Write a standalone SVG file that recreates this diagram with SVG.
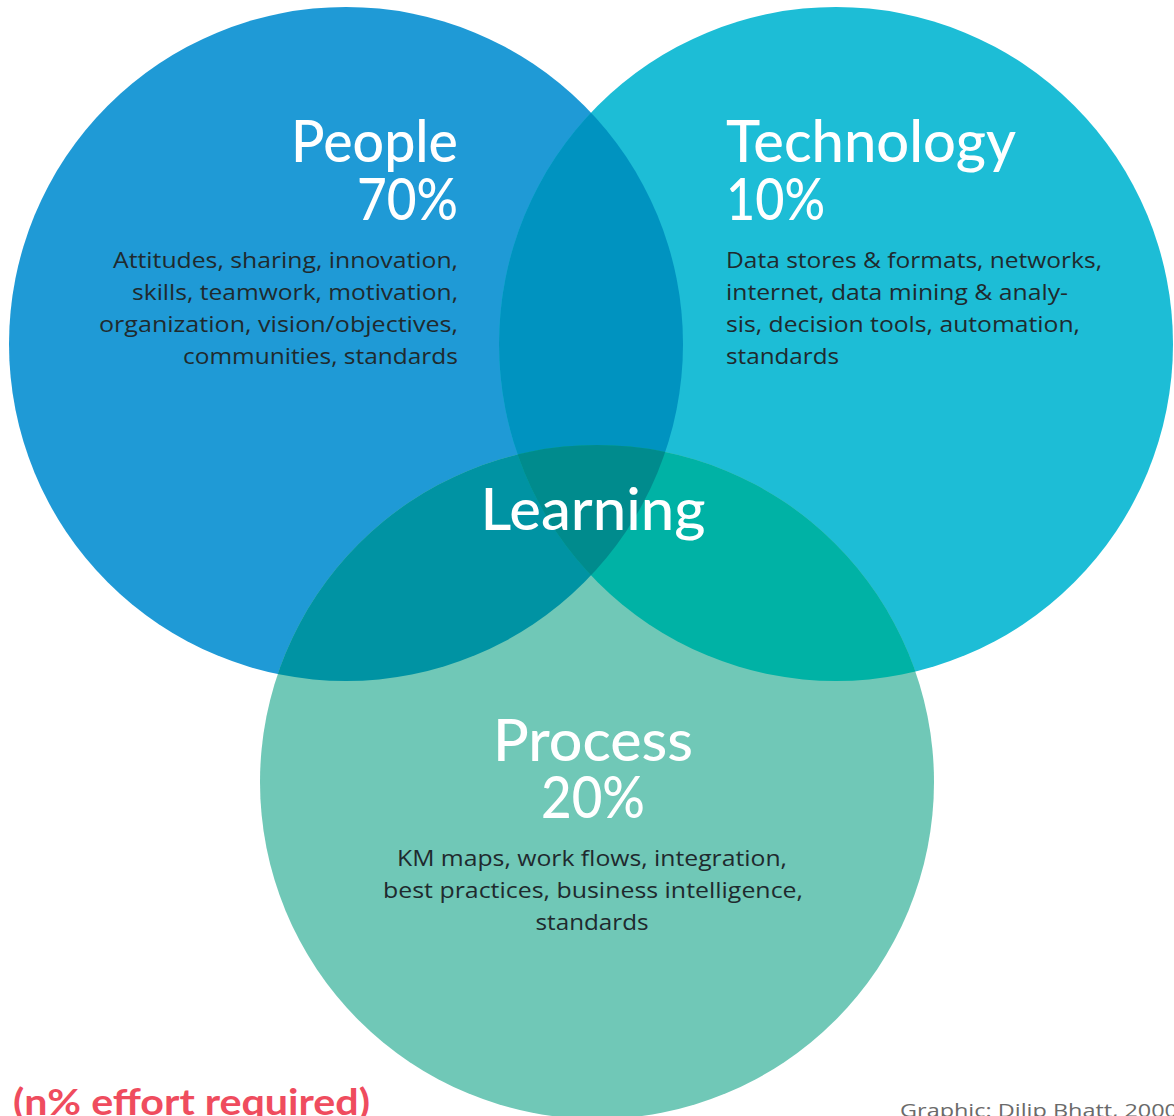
<svg xmlns="http://www.w3.org/2000/svg" width="1174" height="1116" viewBox="0 0 1174 1116">
  <style>
    .title { font-family: Lato, "Noto Sans", "Liberation Sans", sans-serif; font-size: 57px; fill: #ffffff; font-weight: 500; }
    .body { font-family: "Open Sans", "Noto Sans", "Liberation Sans", sans-serif; font-size: 22.5px; fill: #1f2a2e; }
    .note { font-family: Lato, "Noto Sans", "Liberation Sans", sans-serif; font-size: 36px; fill: #ef4c5e; font-weight: bold; }
    .credit { font-family: "Open Sans", "Noto Sans", "Liberation Sans", sans-serif; font-size: 19px; fill: #6a6a6a; }
  </style>
  <defs>
    <clipPath id="clipPeople"><circle cx="346" cy="344" r="337"/></clipPath>
    <clipPath id="clipTech"><circle cx="836" cy="344" r="337"/></clipPath>
  </defs>
  <rect width="1174" height="1116" fill="#ffffff"/>

  <g id="circles">
    <circle id="circle-people" cx="346" cy="344" r="337" fill="#1f9ad6"/>
    <circle id="circle-technology" cx="836" cy="344" r="337" fill="#1dbdd6"/>
    <circle id="circle-process" cx="597" cy="782" r="337" fill="#70c8b7"/>
    <circle id="overlap-people-tech" cx="836" cy="344" r="337" fill="#0093c0" clip-path="url(#clipPeople)"/>
    <circle id="overlap-people-process" cx="597" cy="782" r="337" fill="#0093a3" clip-path="url(#clipPeople)"/>
    <circle id="overlap-tech-process" cx="597" cy="782" r="337" fill="#00b2a5" clip-path="url(#clipTech)"/>
    <g clip-path="url(#clipTech)">
      <circle id="overlap-all" cx="597" cy="782" r="337" fill="#008b8d" clip-path="url(#clipPeople)"/>
    </g>
  </g>

  <g id="node-people">
    <text class="title" x="458" y="162" text-anchor="end" textLength="167" lengthAdjust="spacingAndGlyphs">People</text>
    <text class="title" x="458" y="220" text-anchor="end" textLength="101" lengthAdjust="spacingAndGlyphs">70%</text>
    <text class="body" x="458" y="268" text-anchor="end" textLength="345" lengthAdjust="spacingAndGlyphs">Attitudes, sharing, innovation,</text>
    <text class="body" x="458" y="300" text-anchor="end" textLength="326" lengthAdjust="spacingAndGlyphs">skills, teamwork, motivation,</text>
    <text class="body" x="458" y="332" text-anchor="end" textLength="359" lengthAdjust="spacingAndGlyphs">organization, vision/objectives,</text>
    <text class="body" x="458" y="364" text-anchor="end" textLength="275" lengthAdjust="spacingAndGlyphs">communities, standards</text>
  </g>

  <g id="node-technology">
    <text class="title" x="726" y="162" textLength="290" lengthAdjust="spacingAndGlyphs">Technology</text>
    <text class="title" x="726" y="220" textLength="99" lengthAdjust="spacingAndGlyphs">10%</text>
    <text class="body" x="726" y="268" textLength="376" lengthAdjust="spacingAndGlyphs">Data stores &amp; formats, networks,</text>
    <text class="body" x="726" y="300" textLength="342" lengthAdjust="spacingAndGlyphs">internet, data mining &amp; analy-</text>
    <text class="body" x="726" y="332" textLength="354" lengthAdjust="spacingAndGlyphs">sis, decision tools, automation,</text>
    <text class="body" x="726" y="364" textLength="113" lengthAdjust="spacingAndGlyphs">standards</text>
  </g>

  <g id="node-learning">
    <text class="title" x="593" y="530" text-anchor="middle" textLength="225" lengthAdjust="spacingAndGlyphs">Learning</text>
  </g>

  <g id="node-process">
    <text class="title" x="593" y="761" text-anchor="middle" textLength="200" lengthAdjust="spacingAndGlyphs">Process</text>
    <text class="title" x="593" y="818" text-anchor="middle" textLength="104" lengthAdjust="spacingAndGlyphs">20%</text>
    <text class="body" x="592" y="866" text-anchor="middle" textLength="390" lengthAdjust="spacingAndGlyphs">KM maps, work flows, integration,</text>
    <text class="body" x="593" y="898" text-anchor="middle" textLength="420" lengthAdjust="spacingAndGlyphs">best practices, business intelligence,</text>
    <text class="body" x="592" y="930" text-anchor="middle" textLength="113" lengthAdjust="spacingAndGlyphs">standards</text>
  </g>

  <g id="footer">
    <text class="note" x="13" y="1115" textLength="357" lengthAdjust="spacingAndGlyphs">(n% effort required)</text>
    <text class="credit" x="900" y="1117" textLength="278" lengthAdjust="spacingAndGlyphs">Graphic: Dilip Bhatt, 2000</text>
  </g>
</svg>
